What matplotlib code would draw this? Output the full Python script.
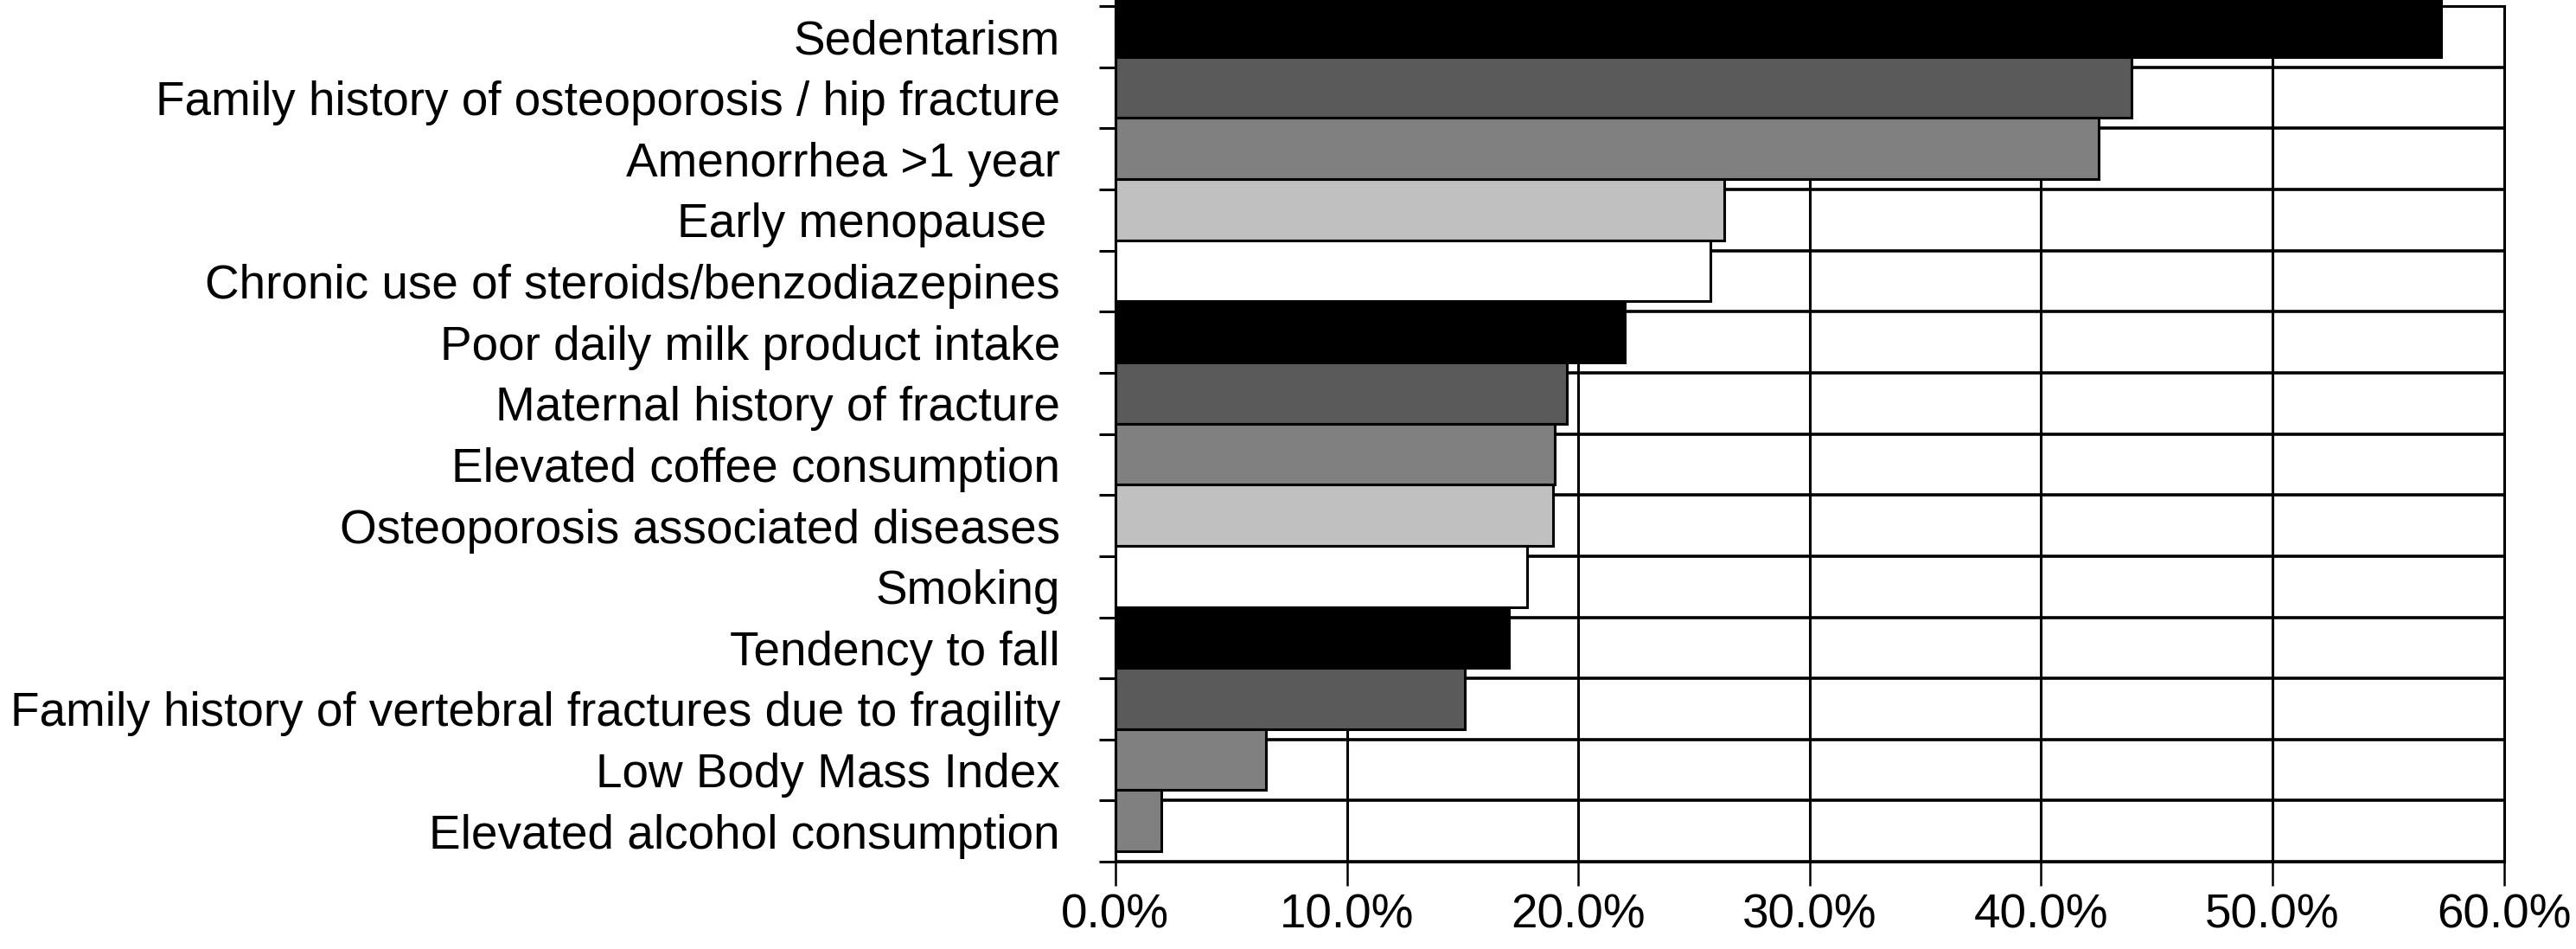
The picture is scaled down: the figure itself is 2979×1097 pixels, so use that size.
import matplotlib
matplotlib.use('Agg')
import matplotlib.pyplot as plt
import numpy as np
from matplotlib.ticker import FixedLocator, FuncFormatter

plt.rcParams['font.family'] = ['Liberation Sans', 'DejaVu Sans']

# risk factors, top to bottom
factors = [
    'Sedentarism',
    'Family history of osteoporosis / hip fracture',
    'Amenorrhea >1 year',
    'Early menopause ',
    'Chronic use of steroids/benzodiazepines',
    'Poor daily milk product intake',
    'Maternal history of fracture',
    'Elevated coffee consumption',
    'Osteoporosis associated diseases',
    'Smoking',
    'Tendency to fall',
    'Family history of vertebral fractures due to fragility',
    'Low Body Mass Index',
    'Elevated alcohol consumption',
]
prevalence = [57.3, 43.9, 42.5, 26.3, 25.7, 22.0, 19.5, 19.0, 18.9, 17.8, 17.0, 15.1, 6.5, 2.0]
bar_colors = ['#000000', '#5a5a5a', '#808080', '#c0c0c0', '#ffffff',
              '#000000', '#5a5a5a', '#808080', '#c0c0c0', '#ffffff',
              '#000000', '#5a5a5a', '#808080', '#808080']
x_ticks = [0, 10, 20, 30, 40, 50, 60]

fig = plt.figure(figsize=(29.79, 10.97), dpi=100)
ax = fig.add_axes([0.433, 0.092, 0.539, 0.9015])

pos = np.arange(len(factors))
# bars drawn a bit above the row centre, like the original export
bars = ax.barh(pos - 0.17, prevalence, height=1.0, color=bar_colors,
               edgecolor='black', linewidth=2.2, zorder=3)
for b in bars:
    b.set_clip_on(False)

ax.set_ylim(len(factors) - 0.5, -0.5)
ax.set_xlim(0, 60)

ax.yaxis.set_major_locator(FixedLocator(pos))
ax.set_yticklabels(factors, fontsize=39.5)
ax.yaxis.set_minor_locator(FixedLocator(np.arange(len(factors) + 1) - 0.5))
ax.tick_params(axis='y', which='major', length=0, pad=46)
ax.tick_params(axis='y', which='minor', length=14, width=2.2, direction='out')

ax.xaxis.set_major_locator(FixedLocator(x_ticks))
ax.xaxis.set_major_formatter(FuncFormatter(lambda v, p: '{:.1f}%'.format(v)))
ax.tick_params(axis='x', which='major', length=20, width=1.8, labelsize=39.5, pad=6)

ax.grid(True, axis='x', which='major', color='black', linewidth=2.2, zorder=1)
ax.grid(True, axis='y', which='minor', color='black', linewidth=2.6, zorder=1)
ax.grid(False, axis='y', which='major')

for s in ax.spines.values():
    s.set_linewidth(2.2)
    s.set_zorder(4)

fig.savefig('out.png', dpi=100)
